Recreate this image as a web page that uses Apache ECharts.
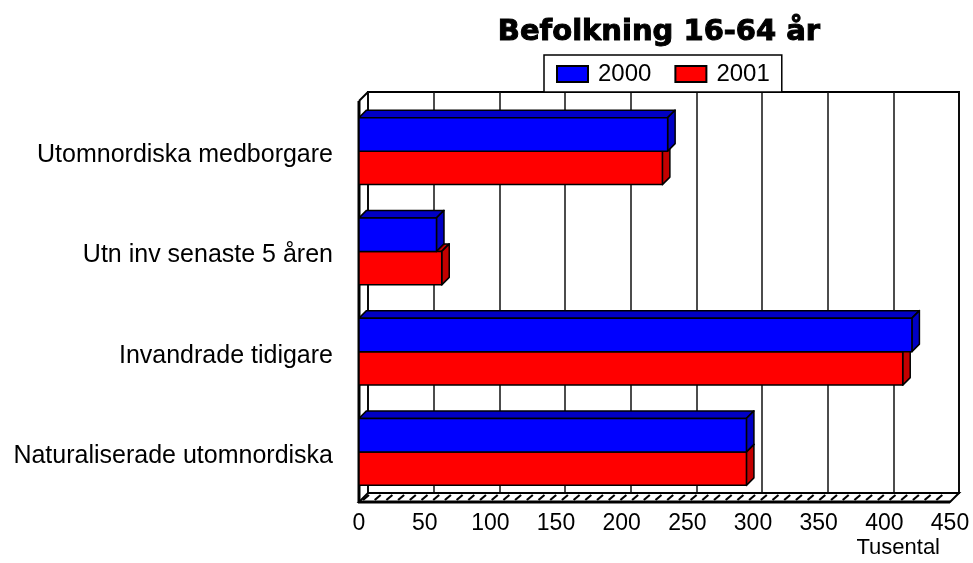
<!DOCTYPE html>
<html>
<head>
<meta charset="utf-8">
<script src="https://cdn.jsdelivr.net/npm/echarts@6/dist/echarts.min.js"></script>
<style>
html,body{margin:0;padding:0;background:#fff;}
#chart{width:973px;height:563px;}
</style>
</head>
<body>
<div id="chart"></div>
<script>
// ---- data ----
const categories = ['Utomnordiska medborgare', 'Utn inv senaste 5 åren', 'Invandrade tidigare', 'Naturaliserade utomnordiska'];
const seriesNames = ['2000', '2001'];
const values2000 = [235, 59, 421, 295];
const values2001 = [231, 63, 414, 295];
const xTicks = [0, 50, 100, 150, 200, 250, 300, 350, 400, 450];
const titleText = 'Befolkning 16-64 år';
const unitText = 'Tusental';

// ---- layout ----
const FONT = '"Liberation Sans", Arial, sans-serif';
const FRONT = {left: 359, top: 101, width: 591, height: 401};
const DEPTH = 9;
const BAR_D = 7.5;
const colors = {
  '2000': {face: '#0000FF', dark: '#0000C4'},
  '2001': {face: '#FF0000', dark: '#C40000'}
};

function makeRender(offsetIdx, col) {
  return function (params, api) {
    const cat = api.value(0);
    const val = api.value(1);
    const band = api.size([0, 1])[1];
    const h = band * 0.334;
    const s = api.coord([0, cat]);
    const e = api.coord([val, cat]);
    const x0 = s[0], x1 = e[0], cy = s[1];
    const top = offsetIdx === 0 ? cy - h : cy;
    const bot = top + h;
    const d = BAR_D;
    const st = {stroke: '#000', lineWidth: 1.5, lineJoin: 'round'};
    return {
      type: 'group',
      children: [
        {type: 'polygon', shape: {points: [[x0, top], [x0 + d, top - d], [x1 + d, top - d], [x1, top]]},
          style: Object.assign({fill: col.dark}, st)},
        {type: 'polygon', shape: {points: [[x1, top], [x1 + d, top - d], [x1 + d, bot - d], [x1, bot]]},
          style: Object.assign({fill: col.dark}, st)},
        {type: 'rect', shape: {x: x0, y: top, width: x1 - x0, height: h},
          style: Object.assign({fill: col.face}, st)}
      ]
    };
  };
}

// decorative walls / floor
const fl = FRONT.left, ft = FRONT.top, fr = FRONT.left + FRONT.width, fb = FRONT.top + FRONT.height;
const graphics = [];
graphics.push({type: 'polygon', z: 1, shape: {points: [[fl, fb], [fr, fb], [fr + DEPTH, fb - DEPTH], [fl + DEPTH, fb - DEPTH]]},
  style: {fill: '#fff', stroke: '#000', lineWidth: 2}});
for (let x = fl + 4; x + 6 < fr + 2; x += 11.7) {
  graphics.push({type: 'line', z: 1, shape: {x1: x, y1: fb - 2, x2: x + 6, y2: fb - DEPTH + 2},
    style: {stroke: '#000', lineWidth: 2.2}});
}
graphics.push({type: 'line', z: 1, shape: {x1: fl - 1, y1: fb, x2: fr, y2: fb}, style: {stroke: '#000', lineWidth: 3}});
graphics.push({type: 'line', z: 1, shape: {x1: fl, y1: ft, x2: fl, y2: fb}, style: {stroke: '#000', lineWidth: 3}});
graphics.push({type: 'line', z: 1, shape: {x1: fl, y1: ft, x2: fl + DEPTH, y2: ft - DEPTH}, style: {stroke: '#000', lineWidth: 2}});
graphics.push({type: 'text', z: 5, style: {text: unitText, x: 940, y: 537, textAlign: 'right', textVerticalAlign: 'top',
  font: '22px ' + FONT, fill: '#000'}});

const option = {
  animation: false,
  backgroundColor: '#fff',
  title: {
    text: titleText,
    left: 654,
    top: 13,
    textAlign: 'center',
    textStyle: {fontFamily: '"DejaVu Sans", sans-serif', fontWeight: 'bold', fontSize: 29, color: '#000',
      textBorderColor: '#000', textBorderWidth: 1}
  },
  legend: {
    data: seriesNames.map(n => ({name: n, icon: 'rect'})),
    left: 544, top: 55,
    padding: [7, 12, 6, 12],
    itemWidth: 31, itemHeight: 16, itemGap: 23,
    borderColor: '#000', borderWidth: 1.5, backgroundColor: '#fff',
    textStyle: {fontFamily: FONT, fontSize: 24, color: '#000', padding: [0, 0, 0, 5]},
    z: 10
  },
  grid: [
    {left: FRONT.left, top: FRONT.top, width: FRONT.width, height: FRONT.height, containLabel: false},
    {left: FRONT.left + DEPTH, top: FRONT.top - DEPTH, width: FRONT.width, height: FRONT.height, show: true,
      borderColor: '#000', borderWidth: 2, backgroundColor: 'transparent', containLabel: false}
  ],
  xAxis: [
    {type: 'value', gridIndex: 0, min: xTicks[0], max: xTicks[xTicks.length - 1], interval: 50,
      axisLine: {show: false}, axisTick: {show: false}, splitLine: {show: false},
      axisLabel: {fontFamily: FONT, fontSize: 23, color: '#000', margin: 10}},
    {type: 'value', gridIndex: 1, min: xTicks[0], max: xTicks[xTicks.length - 1], interval: 50,
      axisLine: {show: false}, axisTick: {show: false}, axisLabel: {show: false},
      splitLine: {show: true, lineStyle: {color: '#111', width: 1.5}}}
  ],
  yAxis: [
    {type: 'category', gridIndex: 0, data: categories, inverse: true,
      axisLine: {show: false}, axisTick: {show: false}, splitLine: {show: false},
      axisLabel: {fontFamily: FONT, fontSize: 25, color: '#000', margin: 26, verticalAlign: 'top', lineHeight: 8}},
    {type: 'category', gridIndex: 1, data: categories, inverse: true, show: false}
  ],
  graphic: graphics,
  series: [
    {name: '2000', type: 'custom', xAxisIndex: 0, yAxisIndex: 0, z: 4,
      itemStyle: {color: colors['2000'].face, borderColor: '#000', borderWidth: 1},
      encode: {x: 1, y: 0},
      data: values2000.map((v, i) => [i, v]),
      renderItem: makeRender(0, colors['2000'])},
    {name: '2001', type: 'custom', xAxisIndex: 0, yAxisIndex: 0, z: 3,
      itemStyle: {color: colors['2001'].face, borderColor: '#000', borderWidth: 1},
      encode: {x: 1, y: 0},
      data: values2001.map((v, i) => [i, v]),
      renderItem: makeRender(1, colors['2001'])}
  ]
};

const chart = echarts.init(document.getElementById('chart'), null, {renderer: 'canvas'});
chart.setOption(option);
</script>
</body>
</html>
